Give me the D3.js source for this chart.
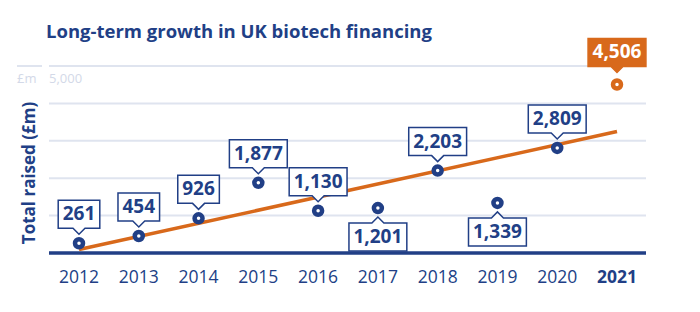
<!DOCTYPE html>
<html>
<head>
<meta charset="utf-8">
<script src="https://cdn.jsdelivr.net/npm/d3@7"></script>
<style>
  body { margin: 0; background: #fff; }
  svg { display: block; font-family: "Open Sans", sans-serif; }
</style>
</head>
<body>
<div id="chart"></div>
<script>
// data
const years = ["2012", "2013", "2014", "2015", "2016", "2017", "2018", "2019", "2020", "2021"];
const values = [261, 454, 926, 1877, 1130, 1201, 2203, 1339, 2809, 4506];
const labelSide = ["up", "up", "up", "up", "up", "down", "up", "down", "up", "up"];
const trendEnds = [94, 3247]; // trend line value at 2012 and 2021
const yTicks = [1000, 2000, 3000, 4000, 5000];

const blue = "#213f86", orange = "#d8691b", grid = "#dfe4ef";

const width = 700, height = 312;
const svg = d3.select("#chart").append("svg")
    .attr("width", width)
    .attr("height", height);

const xScale = d3.scalePoint()
    .domain(years)
    .range([79, 617]);

const yScale = d3.scaleLinear()
    .domain([0, 5000])
    .range([253, 66]);

// title
svg.append("text")
    .attr("x", 46)
    .attr("y", 38)
    .attr("fill", blue)
    .attr("font-size", 18.5)
    .attr("font-weight", 700)
    .text("Long-term growth in UK biotech financing");

// gridlines
svg.append("g").selectAll("line")
    .data(yTicks)
    .join("line")
    .attr("x1", 49).attr("x2", 646)
    .attr("y1", d => yScale(d)).attr("y2", d => yScale(d))
    .attr("stroke", grid)
    .attr("stroke-width", 2);

svg.append("line")
    .attr("x1", 17).attr("x2", 42)
    .attr("y1", yScale(5000)).attr("y2", yScale(5000))
    .attr("stroke", grid)
    .attr("stroke-width", 2);

svg.append("text")
    .attr("x", 17).attr("y", yScale(5000) + 17)
    .attr("fill", "#d3d9e8")
    .attr("font-size", 13)
    .text("£m");

svg.append("text")
    .attr("x", 49).attr("y", yScale(5000) + 17)
    .attr("fill", "#d3d9e8")
    .attr("font-size", 13)
    .text(d3.format(",")(5000));

// baseline
svg.append("line")
    .attr("x1", 49).attr("x2", 646)
    .attr("y1", yScale(0)).attr("y2", yScale(0))
    .attr("stroke", blue)
    .attr("stroke-width", 3.5);

// y title
svg.append("text")
    .attr("transform", "translate(35,173) rotate(-90)")
    .attr("text-anchor", "middle")
    .attr("fill", blue)
    .attr("font-size", 17)
    .attr("font-weight", 700)
    .text("Total raised (£m)");

// x axis labels
svg.append("g").selectAll("text")
    .data(years)
    .join("text")
    .attr("x", d => xScale(d))
    .attr("y", 283)
    .attr("text-anchor", "middle")
    .attr("fill", blue)
    .attr("font-size", 17.5)
    .attr("font-weight", (d, i) => i === years.length - 1 ? 700 : 400)
    .text(d => d);

// trend line
svg.append("line")
    .attr("x1", xScale(years[0])).attr("y1", yScale(trendEnds[0]))
    .attr("x2", xScale(years[years.length - 1])).attr("y2", yScale(trendEnds[1]))
    .attr("stroke", orange)
    .attr("stroke-width", 3.5);

const data = years.map((y, i) => ({year: y, value: values[i], side: labelSide[i], last: i === years.length - 1}));

// markers
svg.append("g").selectAll("circle")
    .data(data)
    .join("circle")
    .attr("cx", d => xScale(d.year))
    .attr("cy", d => yScale(d.value))
    .attr("r", 4)
    .attr("fill", "#fff")
    .attr("stroke", d => d.last ? orange : blue)
    .attr("stroke-width", 4.5);

// callout labels
const fmt = d3.format(",");
const labels = svg.append("g").selectAll("g")
    .data(data)
    .join("g");

labels.each(function(d) {
    const g = d3.select(this);
    const px = xScale(d.year), py = yScale(d.value);
    const txt = g.append("text")
        .attr("text-anchor", "middle")
        .attr("font-size", 19)
        .attr("font-weight", 700)
        .attr("fill", d.last ? "#fff" : blue)
        .text(fmt(d.value));
    const tw = txt.node().getComputedTextLength();
    const w = tw + 9, h = 28, n = 6;
    const gap = d.last ? 12 : 9;
    let tip, edge, path, base;
    if (d.side === "up") {
        tip = py - gap; edge = tip - n;
        const top = edge - h;
        path = `M${px - w / 2},${top}H${px + w / 2}V${edge}H${px + n}L${px},${tip}L${px - n},${edge}H${px - w / 2}Z`;
        base = edge - 8;
    } else {
        tip = py + gap; edge = tip + n;
        const bot = edge + h;
        path = `M${px - w / 2},${edge}H${px - n}L${px},${tip}L${px + n},${edge}H${px + w / 2}V${bot}H${px - w / 2}Z`;
        base = bot - 8;
    }
    g.insert("path", "text")
        .attr("d", path)
        .attr("fill", d.last ? orange : "#fff")
        .attr("stroke", d.last ? orange : blue)
        .attr("stroke-width", 1.5);
    txt.attr("x", px).attr("y", base);
});
</script>
</body>
</html>
